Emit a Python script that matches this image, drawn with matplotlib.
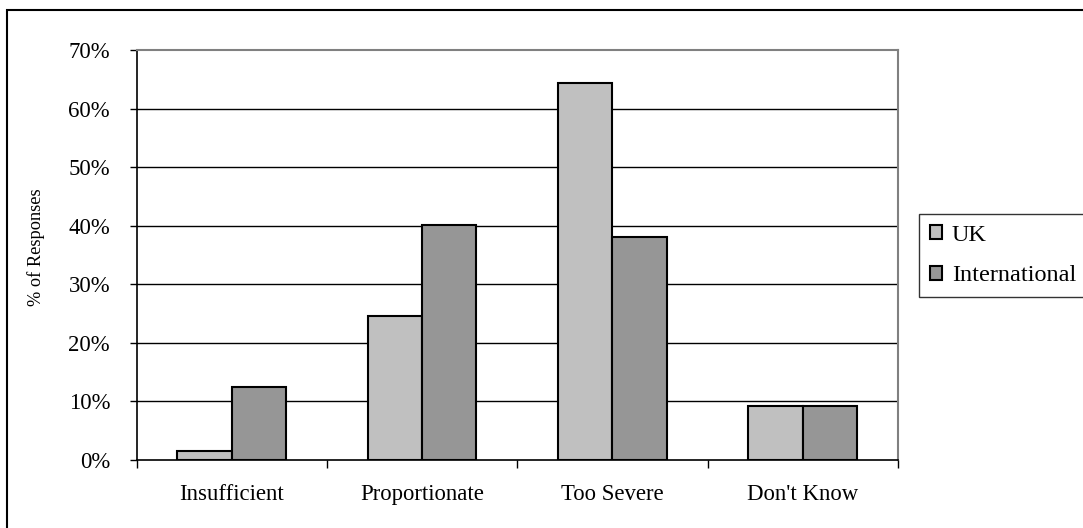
import matplotlib
matplotlib.use("Agg")
import matplotlib.pyplot as plt
from matplotlib.patches import Rectangle, Patch
from matplotlib.ticker import FixedLocator, FuncFormatter
import numpy as np

categories = ["Insufficient", "Proportionate", "Too Severe", "Don't Know"]
uk = [1.6, 24.6, 64.4, 9.2]
international = [12.5, 40.1, 38.1, 9.2]
series_names = ["UK", "International"]
y_ticks = [0, 10, 20, 30, 40, 50, 60, 70]

W, H = 1083, 528
plt.rcParams["font.family"] = ["Liberation Serif", "DejaVu Serif"]

fig = plt.figure(figsize=(W / 100, H / 100), dpi=100)
fig.patch.set_facecolor("white")

# chart frame around the whole figure
fig.patches.append(Rectangle((7 / W, -0.05), 1.1, 1 - 10 / H + 0.05,
                             transform=fig.transFigure, fill=False,
                             edgecolor="black", linewidth=1.5, zorder=0))

left, right, top, bottom = 136.5, 898, 50.3, 460
ax = fig.add_axes([left / W, 1 - bottom / H, (right - left) / W, (bottom - top) / H])

x = np.arange(len(categories))
w = 1 / 3.5
ax.bar(x - w / 2, uk, w, color="#C0C0C0", edgecolor="black", linewidth=1.5, zorder=3)
ax.bar(x + w / 2, international, w, color="#969696", edgecolor="black", linewidth=1.5, zorder=3)

ax.set_xlim(-0.5, len(categories) - 0.5)
ax.set_ylim(0, 70)

# horizontal gridlines
for v in y_ticks[1:-1]:
    ax.axhline(v, color="black", linewidth=1, zorder=1)

ax.yaxis.set_major_locator(FixedLocator(y_ticks))
ax.yaxis.set_major_formatter(FuncFormatter(lambda v, p: f"{v:.0f}%"))
ax.tick_params(axis="y", direction="out", length=5, width=1, pad=14, labelsize=16.4)

ax.set_xticks(x)
ax.set_xticklabels(categories)
ax.xaxis.set_minor_locator(FixedLocator(np.arange(-0.5, len(categories), 1.0)))
ax.tick_params(axis="x", which="major", length=0, pad=17, labelsize=16.4)
ax.tick_params(axis="x", which="minor", direction="out", length=6, width=1)

for s in ("left", "bottom"):
    ax.spines[s].set_color("black")
    ax.spines[s].set_linewidth(1.2)
for s in ("top", "right"):
    ax.spines[s].set_color("#808080")
    ax.spines[s].set_linewidth(1.5)

ax.set_ylabel("% of Responses", fontsize=13.2)
ax.yaxis.set_label_coords((45 - left) / (right - left), 0.52)

handles = [Patch(facecolor="#C0C0C0", edgecolor="black", linewidth=1.5),
           Patch(facecolor="#969696", edgecolor="black", linewidth=1.5)]
leg = fig.legend(handles, series_names, loc="upper left",
                 bbox_to_anchor=(919 / W, 1 - 214 / H), fontsize=17.5,
                 frameon=True, fancybox=False, edgecolor="black",
                 handlelength=0.5, handleheight=0.5, handletextpad=0.4,
                 borderpad=0.45, labelspacing=0.8, borderaxespad=0)
leg.get_frame().set_linewidth(1.0)

fig.savefig("out.png", dpi=100)
